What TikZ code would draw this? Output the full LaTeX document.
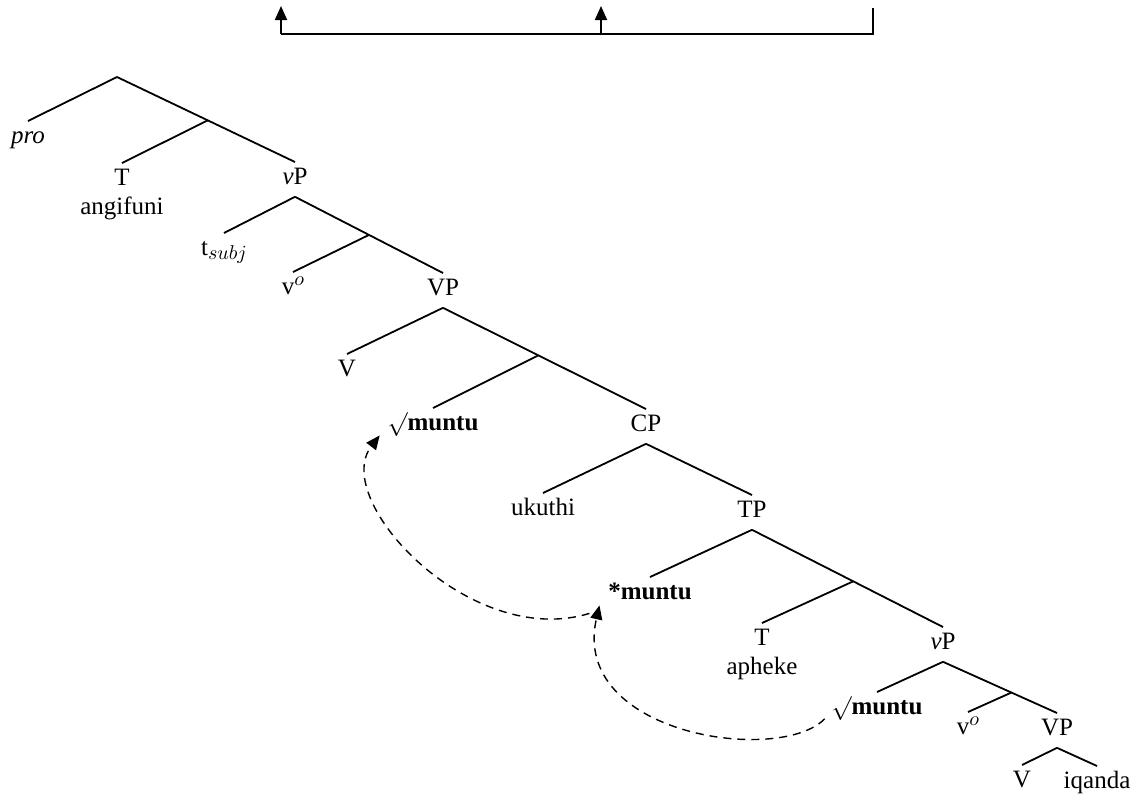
\documentclass[tikz,border=0pt]{standalone}
\usepackage{fontspec}
\setmainfont{Liberation Serif}
\usepackage{tikz}
\usetikzlibrary{arrows.meta,positioning,calc}
\tikzstyle{branch} = [coordinate]
\tikzstyle{cat} = [inner sep=2.5pt, text height=8.5pt, text depth=3pt, anchor=north]
\tikzstyle{word} = [inner sep=2.5pt, text height=8.5pt, text depth=3pt]
\tikzstyle{move} = [dash pattern=on 4pt off 3pt, line width=0.7pt, ->]
\newcommand{\lowidx}[1]{\raisebox{-0.35ex}{\fontsize{10}{12}\selectfont$#1$}}
\newcommand{\highidx}[1]{\raisebox{0.85ex}{\fontsize{10}{12}\selectfont$#1$}}

\begin{document}
\begin{tikzpicture}[x=0.5pt, y=-0.5pt, >={Triangle[length=7pt,width=6pt]}, line width=0.9pt, font=\fontsize{12.5}{15}\selectfont]
		\useasboundingbox (0,0) rectangle (1133,794);

		% bracket over the clause
		\coordinate (bl) at (281,34);
		\coordinate (bm) at (601,34);
		\coordinate (br) at (873,34);
		\coordinate (tl) at (281,6);
		\coordinate (tm) at (601,6);
		\coordinate (tr) at (873,8);
		\draw [->] (bl) -- (tl);
		\draw [->] (bm) -- (tm);
		\draw (tr) -- (br) -- (bl);

		% matrix clause
		\coordinate (root) at (117,77);
		\node [cat] (pro) at (28,121) {\textit{pro}};
		\node [cat] (ta) at (122,163) {T};
		\node [word, below=-3pt of ta] (angifuni) {angifuni};
		\node [cat] (vpa) at (295,162) {\textit{v}P};
		\node [cat] (tsubj) at (224,233) {t\lowidx{subj}};
		\node [cat] (voa) at (293,272) {v\highidx{o}};
		\node [cat] (vpb) at (443,273) {VP};
		\node [cat] (va) at (347,354) {V};
		\node [cat] (mua) at (433,408) {$\surd$\textbf{muntu}};
		\node [cat] (cpa) at (646,409) {CP};

		% embedded clause
		\node [cat] (ukuthi) at (543,493) {ukuthi};
		\node [cat] (tpa) at (752,495) {TP};
		\node [cat] (mub) at (650,577) {\textbf{*muntu}};
		\node [cat] (tb) at (762,623) {T};
		\node [word, below=-3pt of tb] (apheke) {apheke};
		\node [cat] (vpc) at (943,627) {\textit{v}P};
		\node [cat] (muc) at (877,692) {$\surd$\textbf{muntu}};
		\node [cat] (vob) at (968,712) {v\highidx{o}};
		\node [cat] (vpd) at (1057,713) {VP};
		\node [cat] (vb) at (1022,765) {V};
		\node [cat] (iqanda) at (1097,766) {iqanda};

		\coordinate (xa) at ($(root)!0.51!(vpa.north)$);
		\coordinate (xb) at ($(vpa.south)!0.5!(vpb.north)$);
		\coordinate (xc) at ($(vpb.south)!0.47!(cpa.north)$);
		\coordinate (xd) at ($(tpa.south)!0.53!(vpc.north)$);
		\coordinate (xe) at ($(vpc.south)!0.6!(vpd.north)$);

		\draw (root) -- (pro.north);
		\draw (root) -- (xa) -- (vpa.north);
		\draw (xa) -- (ta.north);
		\draw (vpa.south) -- (tsubj.north);
		\draw (vpa.south) -- (xb) -- (vpb.north);
		\draw (xb) -- (voa.north);
		\draw (vpb.south) -- (va.north);
		\draw (vpb.south) -- (xc) -- (cpa.north);
		\draw (xc) -- (mua.north);
		\draw (cpa.south) -- (ukuthi.north);
		\draw (cpa.south) -- (tpa.north);
		\draw (tpa.south) -- (mub.north);
		\draw (tpa.south) -- (xd) -- (vpc.north);
		\draw (xd) -- (tb.north);
		\draw (vpc.south) -- (muc.north);
		\draw (vpc.south) -- (xe) -- (vpd.north);
		\draw (xe) -- (vob.north);
		\draw (vpd.south) -- (vb.north);
		\draw (vpd.south) -- (iqanda.north);

		% movement paths
		\draw [move] ([shift={(-1,-8)}]muc.south west) .. controls (780,765) and (570,735) .. ([shift={(-3,11)}]mub.west);
		\draw [move] ([shift={(-13,19)}]mub.west) .. controls (470,650) and (330,500) .. ([shift={(-2,10)}]mua.west);
	\end{tikzpicture}
\end{document}
